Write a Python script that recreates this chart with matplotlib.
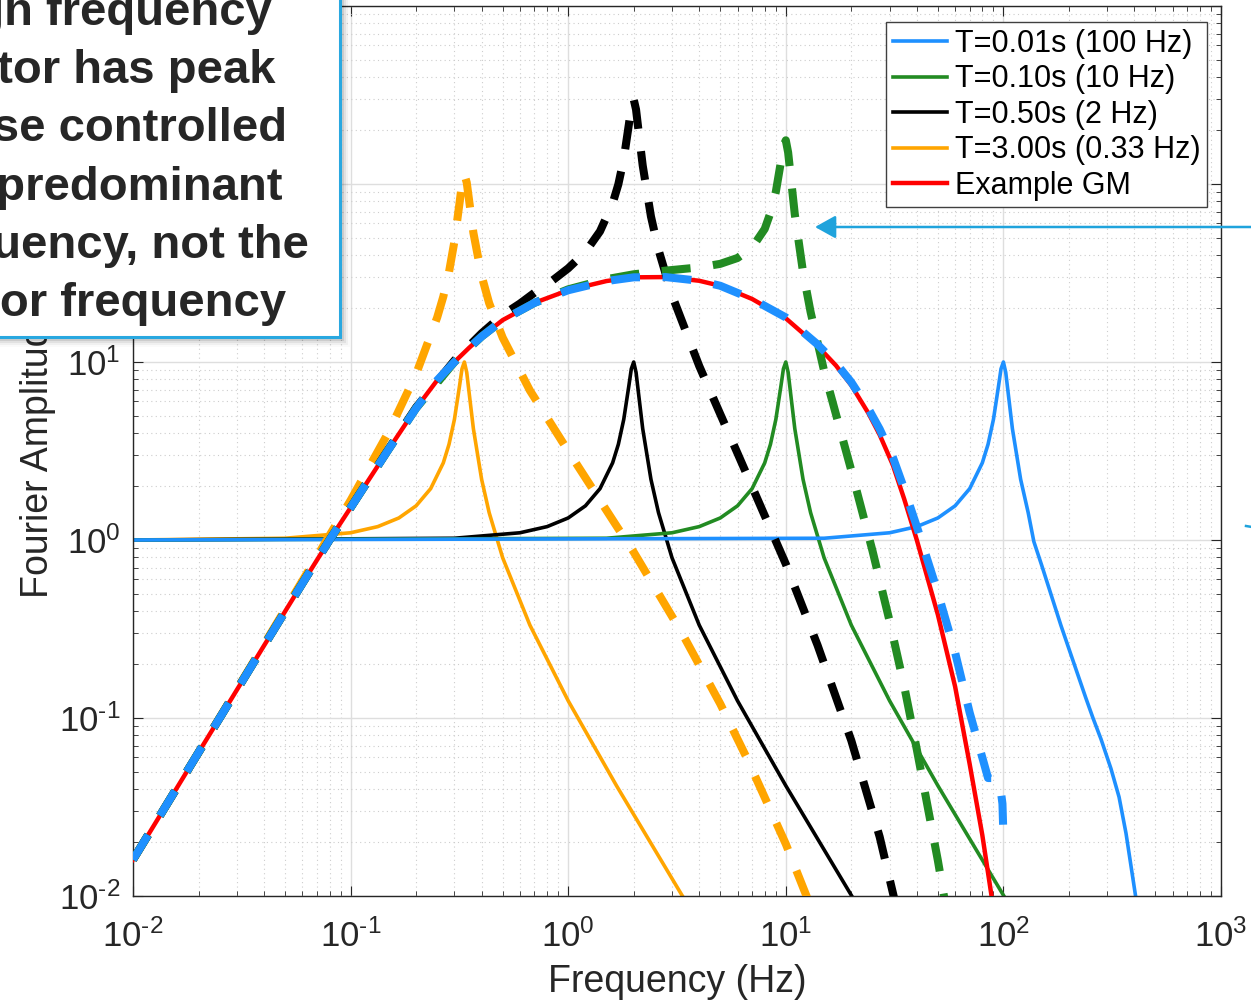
import numpy as np
import matplotlib.pyplot as plt
from matplotlib.lines import Line2D
from matplotlib.patches import Rectangle, FancyArrowPatch
from matplotlib.ticker import LogLocator, NullFormatter, FuncFormatter

plt.rcParams['font.family'] = ['Liberation Sans', 'DejaVu Sans']
plt.rcParams['mathtext.fontset'] = 'custom'
plt.rcParams['mathtext.rm'] = 'Liberation Sans'
plt.rcParams['mathtext.it'] = 'Liberation Sans:italic'
plt.rcParams['mathtext.bf'] = 'Liberation Sans:bold'

W, H = 1251, 1001

# Fourier amplitude spectrum of the example ground motion
gm_freq = [0.01, 0.02, 0.04, 0.06, 0.08, 0.1, 0.15, 0.2, 0.25, 0.3, 0.35, 0.4, 0.5, 0.7,
           1.0, 1.5, 2.0, 2.8, 4.0, 5.0, 7.0, 10, 14, 17, 20, 24, 27, 31, 35, 40, 50, 60,
           70, 80, 90, 100]
gm_amp = [0.016, 0.064, 0.255, 0.57, 1.0, 1.52, 3.25, 5.5, 7.9, 10.0, 12.0, 13.9, 17.2, 21.5,
          25.3, 28.5, 29.9, 30.0, 28.6, 26.8, 22.6, 17.6, 12.3, 9.56, 7.4, 5.14, 3.9, 2.65,
          1.7, 1.0, 0.38, 0.15, 0.055, 0.022, 0.0085, 0.0033]

# oscillator transfer functions, 5% damping
tf_amp = [1.0, 1.023, 1.098, 1.189, 1.33, 1.556, 1.943, 2.712, 3.446, 4.757, 7.346, 9.15, 10.0,
          8.75, 6.815, 4.218, 2.193, 1.424, 0.794, 0.3326, 0.1249, 0.04166, 0.0101, 0.0025]
tf_freq_t300 = [0.01, 0.05, 0.1, 0.1333, 0.1667, 0.2, 0.2333, 0.2667, 0.2833, 0.3, 0.3167, 0.325,
                0.3333, 0.3417, 0.35, 0.3667, 0.4, 0.4333, 0.5, 0.6667, 1.0, 1.667, 3.333, 6.667]
tf_freq_t050 = [0.01, 0.3, 0.6, 0.8, 1.0, 1.2, 1.4, 1.6, 1.7, 1.8, 1.9, 1.95,
                2.0, 2.05, 2.1, 2.2, 2.4, 2.6, 3.0, 4.0, 6.0, 10, 20, 40]
tf_freq_t010 = [0.01, 1.5, 3, 4, 5, 6, 7, 8, 8.5, 9, 9.5, 9.75,
                10, 10.25, 10.5, 11, 12, 13, 15, 20, 30, 50, 100, 200]
tf_freq_t001 = [0.01, 15, 30, 40, 50, 60, 70, 80, 85, 90, 95, 97.5, 100, 102.5, 105, 110,
                120, 130, 138, 150, 184, 200, 239, 258, 281, 312, 340, 366, 406, 450]
tf_amp_t001 = [1.0, 1.023, 1.098, 1.189, 1.33, 1.556, 1.943, 2.712, 3.446, 4.757, 7.346, 9.15,
               10.0, 8.75, 6.815, 4.218, 2.193, 1.424, 0.98, 0.72, 0.33, 0.245, 0.13, 0.10,
               0.076, 0.052, 0.036, 0.0225, 0.0098, 0.003]

# oscillator response spectra (ground motion x transfer function)
rs_freq_t300 = [0.01, 0.02, 0.04, 0.06, 0.08, 0.1, 0.15, 0.2, 0.25, 0.2667, 0.2833, 0.3, 0.3167,
                0.325, 0.3333, 0.3417, 0.35, 0.3667, 0.4, 0.4333, 0.5, 0.6667, 1.0, 1.667, 2.0,
                3.333, 5.0, 6.667, 10, 13.33]
rs_amp_t300 = [0.016, 0.064, 0.259, 0.589, 1.061, 1.67, 4.07, 8.56, 17.8, 23.3, 32.0, 47.6, 78.3,
               100.6, 113.2, 102.0, 81.8, 53.2, 30.5, 21.4, 13.7, 6.92, 3.16, 1.20, 0.855,
               0.30, 0.12, 0.0585, 0.0196, 0.0081]
rs_freq_t050 = [0.01, 0.02, 0.04, 0.06, 0.08, 0.1, 0.15, 0.2, 0.3, 0.4, 0.5, 0.6, 0.7, 0.8, 1.0,
                1.2, 1.4, 1.6, 1.7, 1.8, 1.9, 1.95, 2.0, 2.05, 2.1, 2.2, 2.4, 2.6, 3.0, 4.0,
                5.0, 6.0, 8.0, 10, 14, 20, 27, 35]
rs_amp_t050 = [0.016, 0.064, 0.255, 0.57, 1.0, 1.52, 3.27, 5.56, 10.2, 14.5, 18.4, 21.3, 24.5,
               27.2, 33.6, 41.5, 54.2, 77.8, 99.6, 138, 216, 271, 299, 262, 204, 127, 65.8,
               42.7, 23.7, 9.5, 5.09, 3.07, 1.37, 0.733, 0.256, 0.0747, 0.0215, 0.0056]
rs_freq_t010 = [0.01, 0.02, 0.04, 0.06, 0.08, 0.1, 0.15, 0.2, 0.3, 0.4, 0.5, 0.7, 1.0, 1.5, 2.0,
                2.8, 4.0, 5.0, 6.0, 7.0, 8.0, 8.5, 9.0, 9.5, 9.75, 10, 10.25, 10.5, 11, 12, 13,
                15, 20, 25, 30, 35, 40, 50, 60]
rs_amp_t010 = [0.016, 0.064, 0.255, 0.57, 1.0, 1.52, 3.25, 5.5, 10.0, 13.9, 17.2, 21.5, 25.6,
               29.2, 31.1, 32.6, 34.0, 35.6, 38.4, 43.9, 55.9, 68.9, 90.4, 133.7, 163.8, 176,
               150.5, 114.5, 67.5, 32.0, 19.1, 8.9, 2.46, 0.874, 0.35, 0.151, 0.0666, 0.0158,
               0.0043]
rs_freq_t001 = [0.01, 0.02, 0.04, 0.06, 0.08, 0.1, 0.15, 0.2, 0.25, 0.3, 0.35, 0.4, 0.5, 0.7,
                1.0, 1.5, 2.0, 2.8, 4.0, 5.0, 7.0, 10, 14, 17, 20, 24, 27, 31, 35, 40, 50, 60,
                70, 80, 85, 90, 94, 97, 99, 100]
rs_amp_t001 = [0.016, 0.064, 0.255, 0.57, 1.0, 1.52, 3.25, 5.5, 7.9, 10.0, 12.0, 13.9, 17.2,
               21.5, 25.3, 28.5, 29.9, 30.0, 28.6, 26.8, 22.6, 17.8, 12.55, 9.85, 7.7, 5.45,
               4.2, 2.93, 1.94, 1.19, 0.505, 0.233, 0.107, 0.060, 0.046, 0.046, 0.044, 0.040,
               0.033, 0.022]

labels = ['T=0.01s (100 Hz)', 'T=0.10s (10 Hz)', 'T=0.50s (2 Hz)',
          'T=3.00s (0.33 Hz)', 'Example GM']
c_blue, c_green, c_black, c_orange, c_red = '#1e90ff', '#228b22', '#000000', '#ffa500', '#ff0000'


def px(x, y):
    return x / W, 1 - y / H


def decade_label(v, pos):
    e = int(round(np.log10(v)))
    s = str(e).replace('-', r'\text{-}')
    return r'$\mathregular{10^{%s}}$' % s


fig = plt.figure(figsize=(W / 100, H / 100), dpi=100)
ax = fig.add_axes([133 / W, 105 / H, 1088 / W, 890 / H])

lw_tf = 2.6
ax.plot(tf_freq_t300, tf_amp, color=c_orange, lw=lw_tf, zorder=2.0)
ax.plot(tf_freq_t050, tf_amp, color=c_black, lw=lw_tf, zorder=2.1)
ax.plot(tf_freq_t010, tf_amp, color=c_green, lw=lw_tf, zorder=2.2)
ax.plot(tf_freq_t001, tf_amp_t001, color=c_blue, lw=lw_tf, zorder=2.3)
ax.plot(gm_freq, gm_amp, color=c_red, lw=3.2, zorder=3)

dash = dict(lw=5.8, ls=(0, (3.6, 2.8)), dash_capstyle='butt')
ax.plot(rs_freq_t300, rs_amp_t300, color=c_orange, zorder=4.0, **dash)
ax.plot(rs_freq_t050, rs_amp_t050, color=c_black, zorder=4.1, **dash)
ax.plot(rs_freq_t010, rs_amp_t010, color=c_green, zorder=4.2, **dash)
ax.plot(rs_freq_t001, rs_amp_t001, color=c_blue, zorder=4.3, **dash)

ax.set_xscale('log')
ax.set_yscale('log')
ax.set_xlim(1e-2, 1e3)
ax.set_ylim(1e-2, 1e3)
for axis in (ax.xaxis, ax.yaxis):
    axis.set_major_locator(LogLocator(base=10, numticks=20))
    axis.set_minor_locator(LogLocator(base=10, subs=np.arange(2, 10), numticks=200))
    axis.set_major_formatter(FuncFormatter(decade_label))
    axis.set_minor_formatter(NullFormatter())

ax.tick_params(which='both', direction='in', top=True, right=True, colors='#262626')
ax.tick_params(which='major', length=7, width=0.8, labelsize=25)
ax.tick_params(axis='x', which='major', pad=17)
ax.tick_params(axis='y', which='major', pad=9)
ax.tick_params(which='minor', length=3.5, width=0.6)
ax.grid(which='major', color='#dedede', lw=1.0, ls='-')
ax.grid(which='minor', color='#cdcdcd', lw=0.8, ls=(0, (1, 3)))
ax.set_axisbelow(True)
for s in ax.spines.values():
    s.set_color('#262626')
    s.set_linewidth(1.0)

ax.set_xlabel('Frequency (Hz)', fontsize=27, color='#262626')
ax.xaxis.set_label_coords(0.5, -0.076)
ax.set_ylabel('Fourier Amplitude', fontsize=27, color='#262626')
ax.yaxis.set_label_coords(-0.071, 0.5)

handles = [Line2D([], [], color=c, lw=lw_tf) for c in (c_blue, c_green, c_black, c_orange)]
handles.append(Line2D([], [], color=c_red, lw=3.2))
leg = ax.legend(handles, labels, loc='upper right', bbox_to_anchor=px(1207, 22),
                bbox_transform=fig.transFigure, borderaxespad=0, fontsize=22,
                fancybox=False, framealpha=1, edgecolor='#404040', handlelength=1.77,
                handletextpad=0.25, labelspacing=0.18, borderpad=0.22)
leg.get_frame().set_linewidth(1.0)

# callout box in the upper left corner
for i, a in enumerate([0.12, 0.09, 0.06, 0.04, 0.02]):
    off = 2 + 2 * i
    fig.add_artist(Rectangle(px(-20 + off, 337 + off), 360 / W, 360 / H,
                             transform=fig.transFigure, facecolor='#000000',
                             edgecolor='none', alpha=a, zorder=5))
fig.add_artist(Rectangle(px(-20, 337), 360 / W, 360 / H, transform=fig.transFigure,
                         facecolor='white', edgecolor='#29a8e0', lw=2.2, zorder=6))
box_lines = ['High frequency', 'oscillator has peak', 'response controlled',
             'by the predominant', 'GM frequency, not the', 'oscillator frequency']
box_right = [272, 275, 287, 282, 309, 286]
for k, (txt, xr) in enumerate(zip(box_lines, box_right)):
    fig.text(*px(xr, 25 + 58.2 * k), txt, ha='right', va='baseline', fontsize=34,
             fontweight='bold', color='#262626', zorder=7)

# pointer arrows
fig.add_artist(FancyArrowPatch(px(1270, 227), px(815, 227), transform=fig.transFigure,
                               arrowstyle='-|>,head_length=0.9,head_width=0.5',
                               mutation_scale=14, color='#1fa3dc', lw=1.8,
                               shrinkA=0, shrinkB=0, zorder=8))
fig.add_artist(Line2D([1246 / W, 1252 / W], [1 - 526 / H, 1 - 527 / H],
                      transform=fig.transFigure, color='#1fa3dc', lw=1.8, zorder=8))

fig.savefig('out.png', dpi=100)
